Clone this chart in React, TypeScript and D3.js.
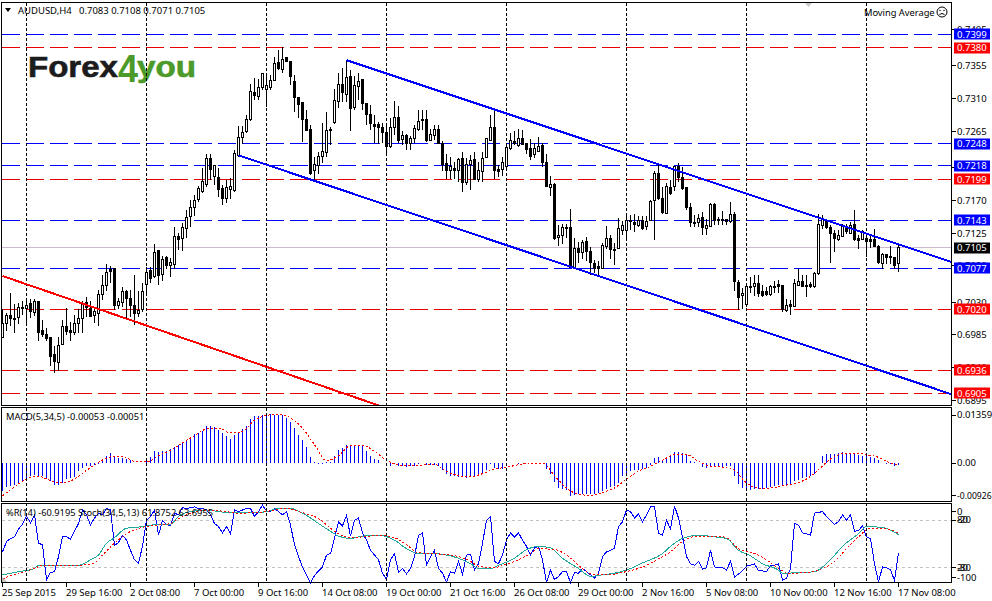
import React from "react";
import * as d3 from "d3";

const opens = [6982,7001,7012,7008,7009,7022,7021,7028,7016,7031,6991,6985,6982,6958,6947,6972,6997,6991,6988,7000,7008,7029,7021,7012,7015,7041,7053,7075,7076,7025,7030,7045,7035,7025,7014,7020,7054,7073,7065,7101,7068,7091,7081,7082,7121,7118,7132,7148,7160,7171,7182,7192,7228,7203,7202,7186,7173,7185,7183,7232,7257,7265,7281,7319,7313,7326,7323,7325,7335,7360,7350,7367,7361,7334,7311,7305,7281,7267,7211,7218,7230,7236,7268,7277,7306,7330,7316,7341,7298,7327,7336,7303,7288,7275,7275,7271,7263,7244,7271,7284,7254,7259,7248,7255,7267,7282,7282,7253,7259,7268,7249,7221,7211,7214,7211,7227,7194,7220,7226,7199,7210,7229,7253,7271,7213,7212,7216,7241,7251,7245,7255,7248,7241,7233,7238,7245,7222,7188,7192,7119,7122,7133,7133,7078,7104,7099,7113,7100,7083,7079,7077,7106,7118,7102,7104,7129,7129,7141,7140,7135,7143,7134,7142,7170,7207,7172,7152,7188,7189,7217,7202,7188,7160,7140,7139,7146,7132,7134,7165,7144,7143,7144,7141,7150,7057,7039,7027,7052,7051,7056,7045,7044,7041,7052,7054,7053,7018,7027,7024,7053,7059,7053,7054,7051,7069,7136,7143,7133,7125,7116,7121,7133,7125,7137,7117,7116,7117,7116,7116,7107,7083,7096,7093,7091,7083];
const highs = [7020,7015,7042,7028,7029,7031,7031,7034,7035,7031,7006,6994,6982,6969,6982,7006,7022,7003,7013,7020,7031,7037,7031,7023,7047,7068,7082,7080,7077,7036,7051,7047,7047,7068,7046,7056,7078,7079,7110,7101,7093,7093,7091,7133,7125,7139,7157,7171,7178,7190,7214,7234,7234,7219,7214,7191,7198,7201,7240,7272,7272,7288,7330,7338,7337,7345,7345,7343,7368,7377,7381,7368,7362,7343,7311,7305,7295,7274,7230,7237,7276,7292,7271,7324,7345,7352,7363,7349,7341,7345,7337,7303,7301,7288,7278,7277,7272,7283,7307,7300,7265,7262,7259,7274,7295,7295,7294,7268,7274,7274,7252,7234,7230,7223,7229,7237,7228,7233,7236,7223,7237,7255,7288,7295,7219,7230,7247,7263,7265,7268,7267,7249,7255,7249,7257,7249,7234,7203,7194,7136,7138,7138,7158,7118,7113,7116,7120,7106,7088,7086,7111,7135,7122,7111,7146,7141,7148,7150,7152,7149,7148,7149,7171,7211,7220,7189,7194,7198,7218,7222,7216,7189,7166,7150,7152,7154,7145,7167,7167,7147,7155,7145,7168,7154,7061,7049,7053,7065,7068,7067,7053,7051,7053,7059,7061,7053,7035,7033,7062,7076,7067,7067,7058,7072,7152,7150,7145,7136,7129,7129,7137,7137,7140,7157,7122,7129,7124,7122,7130,7108,7097,7096,7107,7091,7108];
const lows = [6981,6990,6997,6988,7000,7013,7002,7008,7011,6977,6982,6976,6942,6933,6935,6971,6985,6976,6985,6987,6987,7009,7009,7002,6997,7033,7045,7056,7019,7020,7024,7008,7010,6999,7009,7017,7040,7056,7063,7054,7059,7075,7065,7076,7102,7100,7118,7134,7148,7168,7180,7189,7198,7191,7175,7164,7166,7172,7182,7230,7248,7263,7279,7308,7308,7322,7299,7322,7334,7349,7346,7361,7329,7292,7283,7251,7265,7205,7196,7207,7221,7230,7246,7275,7297,7306,7306,7265,7295,7308,7294,7274,7267,7249,7248,7249,7233,7242,7260,7249,7246,7239,7239,7249,7266,7267,7251,7252,7253,7247,7210,7200,7199,7200,7196,7181,7191,7184,7198,7196,7196,7228,7252,7199,7202,7204,7214,7240,7246,7244,7246,7234,7225,7228,7237,7216,7188,7176,7116,7107,7110,7118,7077,7077,7084,7090,7086,7067,7070,7065,7076,7103,7089,7081,7103,7122,7116,7129,7126,7134,7129,7129,7141,7115,7171,7152,7151,7177,7183,7195,7184,7157,7134,7133,7134,7123,7123,7133,7136,7136,7136,7136,7139,7046,7019,7021,7024,7042,7039,7037,7037,7038,7039,7042,7043,7017,7017,7013,7023,7052,7051,7037,7050,7050,7068,7131,7131,7084,7099,7114,7120,7124,7124,7114,7103,7115,7092,7104,7106,7083,7076,7083,7083,7076,7071];
const closes = [7000,7011,7007,7007,7022,7023,7026,7017,7031,6988,6985,6980,6955,6948,6971,6997,6990,6988,7000,7008,7028,7022,7010,7017,7041,7053,7071,7072,7025,7031,7044,7035,7025,7014,7019,7044,7071,7063,7099,7066,7089,7081,7084,7120,7116,7133,7147,7160,7170,7187,7196,7227,7213,7218,7185,7173,7188,7189,7234,7256,7264,7282,7320,7314,7326,7344,7328,7335,7359,7352,7364,7361,7341,7311,7302,7281,7266,7207,7219,7230,7237,7266,7266,7307,7329,7318,7339,7296,7328,7334,7304,7288,7276,7272,7270,7263,7244,7271,7284,7253,7260,7249,7255,7269,7279,7280,7252,7261,7267,7249,7219,7211,7216,7211,7226,7194,7219,7225,7199,7211,7228,7255,7271,7211,7210,7222,7243,7253,7248,7255,7247,7240,7231,7241,7244,7222,7189,7192,7117,7122,7133,7131,7078,7104,7099,7112,7100,7084,7077,7077,7108,7118,7103,7103,7132,7135,7142,7142,7137,7143,7132,7141,7169,7207,7172,7153,7189,7179,7216,7202,7186,7160,7140,7138,7145,7133,7135,7165,7143,7143,7144,7141,7151,7058,7037,7042,7052,7050,7056,7042,7039,7040,7052,7050,7052,7020,7026,7024,7055,7059,7052,7051,7051,7070,7137,7145,7133,7124,7117,7122,7134,7127,7136,7116,7115,7127,7113,7114,7107,7084,7096,7092,7091,7081,7105];

// MACD values, in units of 0.00001
const macdHistogram = [-802,-680,-642,-614,-566,-519,-425,-359,-330,-396,-378,-425,-519,-632,-623,-566,-453,-425,-396,-236,-142,-94,-76,-47,-28,94,208,283,170,142,142,113,94,0,0,0,113,170,330,302,349,349,396,453,519,566,661,736,821,850,897,1057,1057,1020,944,850,755,680,802,850,963,1038,1256,1322,1340,1369,1388,1388,1369,1369,1350,1274,1152,991,802,642,444,160,19,-19,-19,19,38,208,378,425,500,519,500,519,472,330,208,113,76,0,-19,-76,-28,-76,-94,-123,-94,-76,-19,0,-57,-47,-47,-76,-189,-302,-359,-378,-396,-396,-425,-396,-396,-359,-283,-189,-19,-142,-170,-170,-94,0,0,-28,0,0,0,0,0,0,-170,-302,-548,-708,-736,-755,-925,-897,-878,-878,-878,-868,-868,-850,-802,-736,-689,-642,-566,-378,-330,-236,-208,-189,-170,-142,-47,142,170,94,170,189,302,312,283,236,47,19,0,-123,-142,-123,-113,-113,-113,-94,-94,-359,-585,-708,-755,-755,-736,-736,-736,-708,-680,-642,-614,-642,-623,-585,-519,-472,-425,-396,-359,-302,0,189,264,264,264,283,302,283,283,264,236,208,189,170,142,94,0,-19,-38,-76,-53];
const macdSignalIdx = [0,3,6,9,12,15,18,21,24,27,30,33,36,39,42,45,48,51,54,57,60,63,66,69,72,75,78,81,84,87,90,93,96,99,102,105,108,111,114,117,120,123,126,129,132,135,138,141,144,147,150,153,156,159,162,165,168,171,174,177,180,183,186,189,192,195,198,201,204,207,210,213,216,219,222,224];
const macdSignal = [-925,-680,-453,-378,-500,-566,-453,-208,19,170,189,47,28,208,359,566,774,963,991,850,897,1208,1350,1378,1274,991,519,66,208,491,500,330,76,-57,-85,-57,-38,-236,-359,-387,-302,-170,-123,-47,0,0,-359,-708,-887,-916,-831,-708,-453,-236,-94,76,236,236,47,-94,-123,-208,-566,-708,-708,-642,-585,-453,-189,113,264,283,236,160,0,-51];

const williamsR = [-60,-47,-43,-41,-31,-25,-15,-23,-13,-49,-51,-95,-86,-85,-66,-40,-41,-44,-34,-24,-7,-13,-26,-17,-11,-13,-5,-7,-52,-48,-39,-45,-58,-70,-74,-53,-20,-15,-7,-39,-20,-25,-27,-11,-13,-4,-5,-4,-3,-5,-5,-7,-13,-24,-28,-36,-28,-37,-7,-9,-7,-5,-5,-15,-9,-1,-8,-9,-5,-9,-13,-9,-26,-51,-66,-79,-89,-99,-90,-84,-79,-64,-62,-43,-22,-27,-14,-40,-20,-17,-36,-45,-58,-64,-70,-87,-95,-70,-62,-86,-81,-88,-81,-66,-39,-36,-77,-66,-58,-81,-87,-98,-85,-87,-72,-88,-64,-63,-83,-75,-49,-20,-15,-72,-75,-64,-45,-36,-41,-36,-45,-53,-64,-55,-53,-70,-99,-83,-95,-91,-85,-85,-99,-86,-87,-81,-85,-89,-93,-87,-66,-60,-58,-55,-28,-22,-7,-9,-17,-12,-22,-13,-3,-3,-36,-39,-20,-31,-2,-17,-41,-66,-75,-77,-72,-82,-80,-58,-79,-80,-80,-83,-72,-92,-88,-84,-78,-77,-75,-84,-84,-85,-77,-77,-75,-96,-93,-81,-24,-26,-36,-37,-39,-11,-10,-9,-15,-20,-25,-22,-13,-20,-13,-34,-33,-27,-41,-43,-75,-98,-79,-80,-83,-96,-61];

const stochIdx = [0,4,8,9,14,19,22,24,26,28,31,33,35,39,42,44,47,51,56,59,64,66,69,72,75,79,82,84,87,90,94,98,101,104,107,110,114,117,119,122,124,128,131,134,137,140,144,147,150,153,156,160,165,167,170,174,178,181,184,187,190,194,195,200,203,207,210,214,216,220,224];
const stochMain = [11,15,19,23,23,23,30,36,51,58,70,71,72,75,75,85,91,93,90,90,90,91,95,95,89,76,66,60,57,60,61,55,44,38,38,37,32,25,19,19,23,32,43,47,45,32,19,9,11,13,17,26,38,47,57,61,59,57,42,35,25,17,13,14,15,30,47,63,72,71,62];
const stochSignalIdx = [0,4,8,10,15,19,23,25,28,31,33,35,39,42,44,47,51,56,59,64,67,71,74,79,82,84,87,90,94,98,101,104,107,110,114,117,119,123,125,129,132,134,138,141,145,148,151,155,160,165,167,170,174,178,181,184,188,191,194,197,201,204,208,211,214,217,220,224];
const stochSignal = [6,13,19,23,23,23,26,36,51,63,68,71,74,76,82,89,93,91,89,90,92,95,91,82,70,63,58,59,61,58,49,39,38,37,34,28,22,20,23,30,38,44,43,36,19,11,11,14,21,34,40,53,60,60,58,44,38,30,19,13,14,17,28,44,59,70,70,64];

const blueLevels = [7399, 7248, 7218, 7143, 7077];
const redLevels = [7380, 7199, 7020, 6936, 6905];
const bidPrice = 7105;
const priceTicks = [7405, 7355, 7310, 7265, 7215, 7170, 7125, 7080, 7030, 6985, 6940, 6895];
const gridBars = [6, 36, 66, 96, 126, 156, 186, 216];
const dateBars = [0, 16, 32, 48, 64, 80, 96, 112, 128, 144, 160, 176, 192, 208, 224];
const dateLabels = ["25 Sep 2015","29 Sep 16:00","2 Oct 08:00","7 Oct 00:00","9 Oct 16:00","14 Oct 08:00","19 Oct 00:00","21 Oct 16:00","26 Oct 08:00","29 Oct 00:00","2 Nov 16:00","5 Nov 08:00","10 Nov 00:00","12 Nov 16:00","17 Nov 08:00"];
const upperChannel: [number, number][] = [[86, 7363], [237.4, 7085]];
const lowerChannel: [number, number][] = [[59, 7232], [237.4, 6903]];
const redTrend: [number, number][] = [[0, 7066], [94, 6888]];

const FONT = "'Noto Sans', sans-serif";
const BLUE = "#0000ff";
const RED = "#ff0000";
const TEAL = "#20a89c";

const x = d3.scaleLinear().domain([0, 224]).range([2.5, 898.5]);
const yP = d3.scaleLinear().domain([7399, 6905]).range([34, 393]);
const yM = d3.scaleLinear().domain([1359, 0]).range([415, 463]);
const yS = d3.scaleLinear().domain([100, 0]).range([504.5, 583.5]);
const snap = (v: number) => Math.floor(v) + 0.5;
const fmtP = (p: number) => (p / 10000).toFixed(4);

const Label = ({ y, children, fill, size }: { y: number; children: React.ReactNode; fill?: string; size?: number }) => (
  <text x={957} y={y + 3.5} fontSize={size ?? 9.5} fontFamily={FONT} fill={fill ?? "#000"}>
    {children}
  </text>
);

function Levels() {
  const items = [
    ...blueLevels.map((p) => ({ p, c: BLUE })),
    ...redLevels.map((p) => ({ p, c: "#e80000" })),
  ];
  return (
    <g>
      {items.map(({ p, c }) => (
        <line key={p} x1={2} x2={952} y1={snap(yP(p))} y2={snap(yP(p))} stroke={c} strokeDasharray="18 6" shapeRendering="crispEdges" />
      ))}
    </g>
  );
}

function Candles() {
  return (
    <g shapeRendering="crispEdges">
      {opens.map((o, i) => {
        const c = closes[i];
        const cx = x(i);
        const up = c >= o;
        const top = snap(yP(Math.max(o, c)));
        const bot = snap(yP(Math.min(o, c)));
        return (
          <g key={i}>
            <line x1={cx} x2={cx} y1={yP(highs[i])} y2={yP(lows[i])} stroke="#000" />
            <rect x={cx - 1} y={top} width={2} height={Math.max(bot - top, 1)} fill={up ? "#fff" : "#000"} stroke="#000" />
          </g>
        );
      })}
    </g>
  );
}

export default function App() {
  const signalLine = d3.line<number>().x((_, i) => x(macdSignalIdx[i])).y((v) => yM(v)).curve(d3.curveMonotoneX);
  const rLine = d3.line<number>().x((_, i) => x(i)).y((v) => yS(100 + v));
  const mainLine = d3.line<number>().x((_, i) => x(stochIdx[i])).y((v) => yS(v)).curve(d3.curveMonotoneX);
  const sigLine = d3.line<number>().x((_, i) => x(stochSignalIdx[i])).y((v) => yS(v)).curve(d3.curveMonotoneX);
  const trend = d3.line<[number, number]>().x((d) => x(d[0])).y((d) => yP(d[1]));

  return (
    <svg width={992} height={601} style={{ position: "absolute", left: 0, top: 0, background: "#fff" }}>
      <defs>
        <clipPath id="mainClip"><rect x={2} y={3} width={950} height={402} /></clipPath>
      </defs>

      {/* logo */}
      <g fontFamily="'Liberation Sans', sans-serif" fontWeight="bold">
        <text x={28} y={77} fontSize={29} fill="#1c1c1c" stroke="#1c1c1c" strokeWidth={0.6} textLength={90} lengthAdjust="spacingAndGlyphs">Forex</text>
        <text x={118} y={82} fontSize={38} fill="#4c9a2a" textLength={20} lengthAdjust="spacingAndGlyphs">4</text>
        <text x={137} y={77} fontSize={29} fill="#4c9a2a" stroke="#4c9a2a" strokeWidth={0.6} textLength={59} lengthAdjust="spacingAndGlyphs">you</text>
      </g>

      {/* bid line */}
      <line x1={2} x2={952} y1={snap(yP(bidPrice))} y2={snap(yP(bidPrice))} stroke="#cdb8cd" shapeRendering="crispEdges" />
      <Levels />

      {/* MACD */}
      <g shapeRendering="crispEdges">
        {macdHistogram.map((v, i) => (
          <line key={i} x1={x(i)} x2={x(i)} y1={yM(0)} y2={yM(v)} stroke={BLUE} />
        ))}
      </g>
      <path d={signalLine(macdSignal) ?? ""} fill="none" stroke={RED} strokeDasharray="2 2" shapeRendering="crispEdges" />

      {/* Stochastic + %R */}
      {[80, 20].map((v) => (
        <line key={v} x1={2} x2={952} y1={snap(yS(v))} y2={snap(yS(v))} stroke="#c8c0c0" strokeDasharray="3 3" shapeRendering="crispEdges" />
      ))}
      <path d={rLine(williamsR) ?? ""} fill="none" stroke={BLUE} shapeRendering="crispEdges" />
      <path d={mainLine(stochMain) ?? ""} fill="none" stroke={TEAL} shapeRendering="crispEdges" />
      <path d={sigLine(stochSignal) ?? ""} fill="none" stroke={RED} strokeDasharray="2 2" shapeRendering="crispEdges" />
      <polygon points="2,577 2,582 7,582" fill="#c0c0c0" />

      {/* time grid */}
      {gridBars.map((b) => (
        <line key={b} x1={x(b)} x2={x(b)} y1={3} y2={583} stroke="#000" strokeDasharray="3 2" shapeRendering="crispEdges" />
      ))}

      {/* price */}
      <Candles />
      <g clipPath="url(#mainClip)" fill="none" strokeWidth={2} shapeRendering="crispEdges">
        <path d={trend(redTrend) ?? ""} stroke={RED} />
        <path d={trend(upperChannel) ?? ""} stroke={BLUE} />
        <path d={trend(lowerChannel) ?? ""} stroke={BLUE} />
      </g>

      {/* frames */}
      <g fill="none" stroke="#000" shapeRendering="crispEdges">
        <rect x={1.5} y={2.5} width={950} height={403} />
        <rect x={1.5} y={407.5} width={950} height={94} />
        <rect x={1.5} y={503.5} width={950} height={79} />
      </g>

      {/* price axis */}
      {priceTicks.map((p) => (
        <g key={p}>
          <line x1={952} x2={956} y1={snap(yP(p))} y2={snap(yP(p))} stroke="#000" shapeRendering="crispEdges" />
          <Label y={yP(p)}>{fmtP(p)}</Label>
        </g>
      ))}
      {[...blueLevels.map((p) => ({ p, c: BLUE })), ...redLevels.map((p) => ({ p, c: RED })), { p: bidPrice, c: "#000" }].map(({ p, c }) => (
        <g key={p}>
          <rect x={954} y={Math.round(yP(p)) - 5.5} width={36} height={11} fill={c} />
          <Label y={yP(p)} fill="#fff">{fmtP(p)}</Label>
        </g>
      ))}

      {/* MACD axis */}
      {[{ v: 1359, t: "0.01359" }, { v: 0, t: "0.00" }, { v: -926, t: "-0.00926" }].map(({ v, t }) => (
        <g key={t}>
          <line x1={952} x2={956} y1={snap(yM(v))} y2={snap(yM(v))} stroke="#000" shapeRendering="crispEdges" />
          <Label y={yM(v) - 0.5} size={t.length > 7 ? 8.6 : 9.5}>{t}</Label>
        </g>
      ))}

      {/* oscillator axis */}
      <Label y={511}>0</Label>
      <Label y={yS(80) - 0.5}>80</Label>
      <Label y={yS(80) - 0.5}>-20</Label>
      <Label y={yS(20) - 0.5}>20</Label>
      <Label y={yS(20) - 0.5}>-80</Label>
      <Label y={577}>-100</Label>
      <g stroke="#000" shapeRendering="crispEdges">
        {[511, yS(80), yS(20), 577].map((v) => (
          <line key={v} x1={952} x2={956} y1={snap(v)} y2={snap(v)} />
        ))}
      </g>

      {/* date axis */}
      {dateBars.map((b, i) => (
        <g key={b}>
          <line x1={x(b)} x2={x(b)} y1={583} y2={587} stroke="#000" shapeRendering="crispEdges" />
          <text x={x(b) - 0.5} y={596} fontSize={9.5} fontFamily={FONT} fill="#000">{dateLabels[i]}</text>
        </g>
      ))}

      {/* titles */}
      <polygon points="5,8 11,8 8,12" fill="#000" />
      <g fontFamily={FONT} fontSize={9.5} fill="#000">
        <text x={18} y={14}>AUDUSD,H4</text>
        <text x={79} y={14}>{`${fmtP(opens[224])} ${fmtP(highs[224])} ${fmtP(lows[224])} ${fmtP(closes[224])}`}</text>
        <text x={864} y={15.5} fontSize={9.3}>Moving Average</text>
        <text x={6} y={420} fontSize={9.3}>MACD(5,34,5) -0.00053 -0.00051</text>
        <text x={6} y={516} fontSize={9.3}>%R(14) -60.9195  Stoch(34,5,13) 61.8752 63.6955</text>
      </g>
      <polygon points="805,3 812,3 808.5,7" fill="#c8c8c8" />
      <g fill="none" stroke="#000">
        <circle cx={942} cy={12} r={5} />
        <path d="M939.5 14.5 Q942 12.5 944.5 14.5" />
      </g>
      <circle cx={940} cy={10.5} r={0.7} fill="#000" />
      <circle cx={944} cy={10.5} r={0.7} fill="#000" />
    </svg>
  );
}
